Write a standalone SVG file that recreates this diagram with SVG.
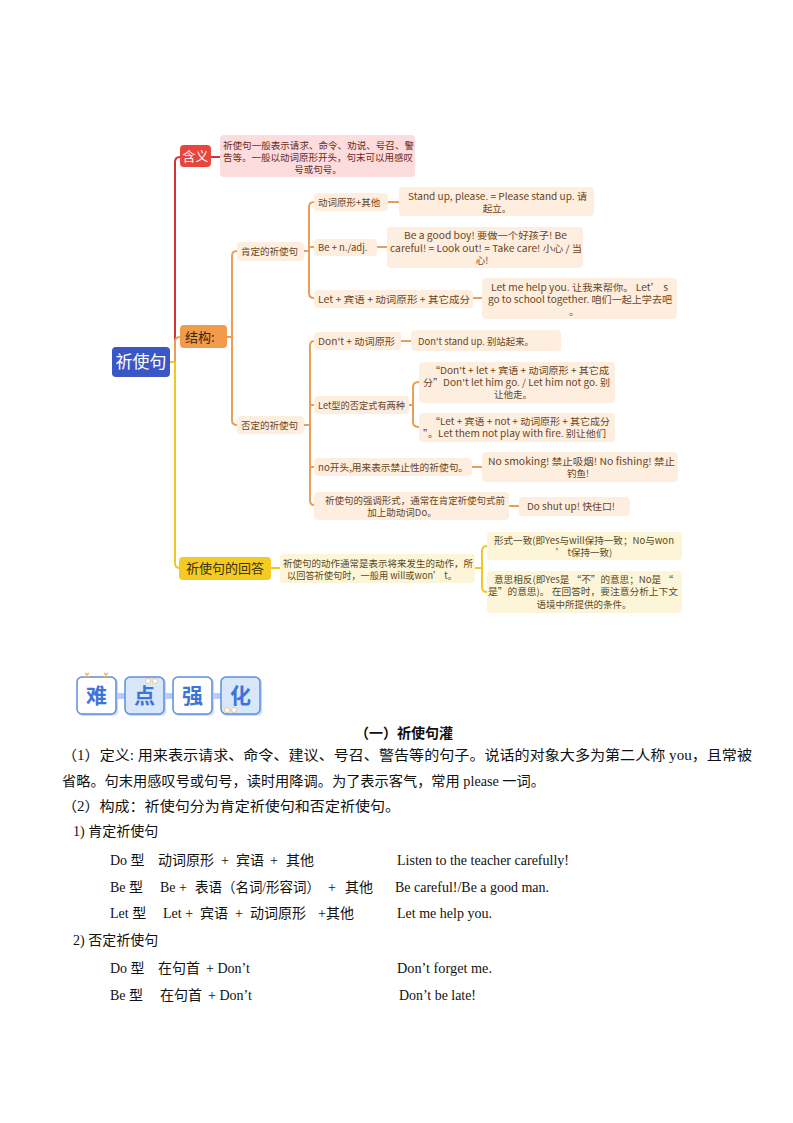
<svg xmlns="http://www.w3.org/2000/svg" width="793" height="1123" viewBox="0 0 793 1123">
<style>
.mm{font-family:"Noto Sans CJK SC","Noto Sans",sans-serif;font-size:9.5px;fill:#6a4524}
.mmc{text-anchor:middle}
.pf{fill:#fdeedf}
.yf{fill:#fdf5d8}
.body{font-family:"Liberation Serif","Noto Sans CJK SC",serif;font-size:14px;fill:#111}
.ln{fill:none;stroke-width:2;stroke-linecap:round}
.o{stroke:#e9a056}
.r{stroke:#d3342b}
.y{stroke:#f1c823}
.bx{stroke:#5b8fe0;stroke-width:1.5}
.bt{font-family:"Noto Sans CJK SC",sans-serif;font-size:21px;font-weight:bold;fill:#3d74d8;text-anchor:middle}
</style>
<rect width="793" height="1123" fill="#fff"/>

<g id="connectors">
<path class="ln y" d="M170,362 H175"/>
<path class="ln r" d="M175,340 V162 Q175,157 180,157"/>
<path class="ln r" d="M211,157 H220"/>
<path class="ln o" d="M175,362 V342 Q175,337 180,337"/>
<path class="ln y" d="M175,362 V563 Q175,568 180,568"/>
<path class="ln o" d="M227,337 H232 M232,337 V256 Q232,251 237,251 M232,337 V420 Q232,425 237,425"/>
<path class="ln o" d="M304,251 H309 M309,251 V207 Q309,202 314,202 M309,251 V293 Q309,298 314,298 M309,247 H314"/>
<path class="ln o" d="M388,202 H399 M377,247 H387 M473,298 H482"/>
<path class="ln o" d="M304,425 H310 M310,425 V346 Q310,341 314,341 M310,425 V500 Q310,505 314,505 M310,405 H314 M310,467 H314"/>
<path class="ln o" d="M401,341 H411 M409,405 H413 M413,405 V387 Q413,382 419,382 M413,405 V422 Q413,427 419,427 M472,467 H482 M509,506 H519"/>
<path class="ln y" d="M271,568 H280 M475,568 H482 M482,568 V551 Q482,546 487,546 M482,568 V587 Q482,592 487,592"/>
</g>

<g id="root">
<rect x="112" y="347" width="58" height="30" rx="4" fill="#3b57c5"/>
<text x="141" y="368" font-family="Noto Sans CJK SC,sans-serif" font-size="17" fill="#fff" text-anchor="middle">祈使句</text>
</g>

<g id="hanyi">
<rect x="180" y="145" width="31" height="22" rx="4" fill="#e8463c"/>
<text x="195.5" y="161" font-family="Noto Sans CJK SC,sans-serif" font-size="13" fill="#fff" text-anchor="middle">含义</text>
</g>
<g id="hanyi-desc">
<rect x="220" y="135" width="195" height="42" rx="4" fill="#fcdcdc"/>
<text class="mm" x="223" y="148.5" textLength="191" lengthAdjust="spacingAndGlyphs" style="fill:#6b2a22">祈使句一般表示请求、命令、劝说、号召、警</text>
<text class="mm" x="223" y="160.5" textLength="190" lengthAdjust="spacingAndGlyphs" style="fill:#6b2a22">告等。一般以动词原形开头，句末可以用感叹</text>
<text class="mm mmc" x="318" y="172.5" style="fill:#6b2a22">号或句号。</text>
</g>

<g id="jiegou">
<rect x="180" y="325" width="47" height="23" rx="4" fill="#f29b4a"/>
<text x="185" y="342" font-family="Noto Sans CJK SC,sans-serif" font-size="13" fill="#3b2410">结构:</text>
</g>

<g id="kending">
<rect class="pf" x="237" y="242" width="67" height="19" rx="4"/>
<text class="mm" x="241" y="254.5">肯定的祈使句</text>
</g>
<g id="k1">
<rect class="pf" x="314" y="193" width="74" height="18" rx="4"/>
<text class="mm" x="318" y="205.5">动词原形+其他</text>
</g>
<g id="k1d">
<rect class="pf" x="399" y="187" width="195" height="29" rx="4"/>
<text class="mm" x="408" y="199.5" textLength="179" lengthAdjust="spacingAndGlyphs">Stand up, please. = Please stand up.  请</text>
<text class="mm mmc" x="497" y="211.5">起立。</text>
</g>
<g id="k2">
<rect class="pf" x="314" y="239" width="63" height="17" rx="4"/>
<text class="mm" x="318" y="250.5">Be + n./adj.</text>
</g>
<g id="k2d">
<rect class="pf" x="387" y="227" width="196" height="41" rx="4"/>
<text class="mm" x="404" y="238.5" textLength="163" lengthAdjust="spacingAndGlyphs">Be a good boy! 要做一个好孩子!   Be</text>
<text class="mm" x="390" y="251.5" textLength="192" lengthAdjust="spacingAndGlyphs">careful! = Look out! = Take care! 小心 / 当</text>
<text class="mm mmc" x="482" y="263.5">心!</text>
</g>
<g id="k3">
<rect class="pf" x="314" y="290" width="159" height="18" rx="4"/>
<text class="mm" x="318" y="302.5" textLength="152" lengthAdjust="spacingAndGlyphs">Let + 宾语 + 动词原形 + 其它成分</text>
</g>
<g id="k3d">
<rect class="pf" x="482" y="278" width="195" height="41" rx="4"/>
<text class="mm" x="491" y="290.5" textLength="177" lengthAdjust="spacingAndGlyphs">Let me help you. 让我来帮你。     Let’ s</text>
<text class="mm" x="488" y="302.5" textLength="184" lengthAdjust="spacingAndGlyphs">go to school together.  咱们一起上学去吧</text>
<text class="mm mmc" x="574" y="314.5">。</text>
</g>

<g id="fouding">
<rect class="pf" x="237" y="416" width="67" height="18" rx="4"/>
<text class="mm" x="241" y="428.5">否定的祈使句</text>
</g>
<g id="f1">
<rect class="pf" x="314" y="332" width="87" height="18" rx="4"/>
<text class="mm" x="318" y="344.5" textLength="77" lengthAdjust="spacingAndGlyphs">Don't + 动词原形</text>
</g>
<g id="f1d">
<rect class="pf" x="411" y="330" width="150" height="21" rx="4"/>
<text class="mm" x="418" y="344.5" textLength="116" lengthAdjust="spacingAndGlyphs">Don't stand up. 别站起来。</text>
</g>
<g id="f2">
<rect class="pf" x="314" y="396" width="95" height="18" rx="4"/>
<text class="mm" x="318" y="408.5" textLength="87" lengthAdjust="spacingAndGlyphs">Let型的否定式有两种</text>
</g>
<g id="f2a">
<rect class="pf" x="419" y="362" width="196" height="41" rx="4"/>
<text class="mm" x="430" y="373.5" textLength="179" lengthAdjust="spacingAndGlyphs">“Don't + let + 宾语 + 动词原形 + 其它成</text>
<text class="mm" x="423" y="385.5" textLength="187" lengthAdjust="spacingAndGlyphs">分”Don't let him go. / Let him not go. 别</text>
<text class="mm mmc" x="513" y="397.5">让他走。</text>
</g>
<g id="f2b">
<rect class="pf" x="419" y="413" width="196" height="29" rx="4"/>
<text class="mm" x="430" y="424.5" textLength="180" lengthAdjust="spacingAndGlyphs">“Let + 宾语 + not + 动词原形 + 其它成分</text>
<text class="mm" x="423" y="436.5" textLength="183" lengthAdjust="spacingAndGlyphs">”。Let them not play with fire. 别让他们</text>
</g>
<g id="f3">
<rect class="pf" x="314" y="458" width="158" height="18" rx="4"/>
<text class="mm" x="318" y="470.5" textLength="150" lengthAdjust="spacingAndGlyphs">no开头,用来表示禁止性的祈使句。</text>
</g>
<g id="f3d">
<rect class="pf" x="482" y="452" width="196" height="30" rx="4"/>
<text class="mm" x="488" y="464.5" textLength="187" lengthAdjust="spacingAndGlyphs">No smoking! 禁止吸烟!    No fishing! 禁止</text>
<text class="mm mmc" x="578" y="476.5">钓鱼!</text>
</g>
<g id="f4">
<rect class="pf" x="314" y="492" width="195" height="28" rx="4"/>
<text class="mm" x="325" y="503.5" textLength="180" lengthAdjust="spacingAndGlyphs">祈使句的强调形式，通常在肯定祈使句式前</text>
<text class="mm mmc" x="402" y="515.5">加上助动词Do。</text>
</g>
<g id="f4d">
<rect class="pf" x="519" y="497" width="111" height="19" rx="4"/>
<text class="mm" x="527" y="509.5" textLength="88" lengthAdjust="spacingAndGlyphs">Do shut up! 快住口!</text>
</g>

<g id="huida">
<rect x="179" y="557" width="92" height="23" rx="4" fill="#f4ca25"/>
<text x="225" y="573" font-family="Noto Sans CJK SC,sans-serif" font-size="13" fill="#3a2e00" text-anchor="middle">祈使句的回答</text>
</g>
<g id="huida-desc">
<rect class="yf" x="280" y="554" width="195" height="29" rx="4"/>
<text class="mm" x="283" y="566.5" textLength="190" lengthAdjust="spacingAndGlyphs" style="fill:#5a4a1e">祈使句的动作通常是表示将来发生的动作，所</text>
<text class="mm" x="287" y="578.5" textLength="170" lengthAdjust="spacingAndGlyphs" style="fill:#5a4a1e">以回答祈使句时，一般用 will或won’ t。</text>
</g>
<g id="h1">
<rect class="yf" x="487" y="532" width="195" height="28" rx="4"/>
<text class="mm" x="494" y="543.5" textLength="180" lengthAdjust="spacingAndGlyphs" style="fill:#5a4a1e">形式一致(即Yes与will保持一致；No与won</text>
<text class="mm mmc" x="584" y="555.5" style="fill:#5a4a1e">’ t保持一致)</text>
</g>
<g id="h2">
<rect class="yf" x="487" y="571" width="195" height="42" rx="4"/>
<text class="mm" x="494" y="582.5" textLength="179" lengthAdjust="spacingAndGlyphs" style="fill:#5a4a1e">意思相反(即Yes是 “不”的意思；No是 “</text>
<text class="mm" x="488" y="595" textLength="190" lengthAdjust="spacingAndGlyphs" style="fill:#5a4a1e">是”的意思)。 在回答时，要注意分析上下文</text>
<text class="mm mmc" x="584" y="608" style="fill:#5a4a1e">语境中所提供的条件。</text>
</g>

<g id="badge">
<rect x="117" y="693" width="8" height="6" fill="#b5cff3"/>
<rect x="165" y="693" width="8" height="6" fill="#b5cff3"/>
<rect x="213" y="693" width="8" height="6" fill="#b5cff3"/>
<rect x="78" y="678" width="40" height="38" rx="5" fill="#c7dbf7"/>
<rect x="77" y="677" width="39" height="37" rx="5" fill="#fff" class="bx"/>
<rect x="126" y="678" width="40" height="38" rx="5" fill="#c7dbf7"/>
<rect x="125" y="677" width="39" height="37" rx="5" fill="#d9e7fb" class="bx"/>
<rect x="174" y="678" width="40" height="38" rx="5" fill="#c7dbf7"/>
<rect x="173" y="677" width="39" height="37" rx="5" fill="#fff" class="bx"/>
<rect x="222" y="678" width="40" height="38" rx="5" fill="#c7dbf7"/>
<rect x="221" y="677" width="39" height="37" rx="5" fill="#d9e7fb" class="bx"/>
<text class="bt" x="96.5" y="703">难</text>
<text class="bt" x="144.5" y="703">点</text>
<text class="bt" x="192.5" y="703">强</text>
<text class="bt" x="240.5" y="703">化</text>
<path d="M85,673 l4,4 M89,673 l-4,4 M104,673 l4,4 M108,673 l-4,4" stroke="#e4b05a" stroke-width="1.2"/>
<circle cx="148" cy="681" r="2.5" fill="#fff" stroke="#e9c98f" stroke-width="1"/>
<circle cx="155" cy="681" r="2.5" fill="#fff" stroke="#e9c98f" stroke-width="1"/>
<circle cx="227" cy="710" r="2.5" fill="#fff" stroke="#e9c98f" stroke-width="1"/>
<circle cx="234" cy="710" r="2.5" fill="#fff" stroke="#e9c98f" stroke-width="1"/>
</g>

<g id="body-text">
<text class="body" x="355" y="738" font-weight="bold" font-size="13">（一）祈使句灌</text>
<text class="body" x="62" y="760" textLength="690" lengthAdjust="spacingAndGlyphs">（1）定义: 用来表示请求、命令、建议、号召、警告等的句子。说话的对象大多为第二人称 you，且常被</text>
<text class="body" x="62" y="786" textLength="483" lengthAdjust="spacingAndGlyphs">省略。句末用感叹号或句号，读时用降调。为了表示客气，常用 please 一词。</text>
<text class="body" x="62" y="811" textLength="338" lengthAdjust="spacingAndGlyphs">（2）构成：祈使句分为肯定祈使句和否定祈使句。</text>
<text class="body" x="73" y="836">1) 肯定祈使句</text>
<text class="body" x="110" y="865">Do 型</text>
<text class="body" x="158" y="865">动词原形</text>
<text class="body" x="221" y="865">+</text>
<text class="body" x="236" y="865">宾语</text>
<text class="body" x="270" y="865">+</text>
<text class="body" x="286" y="865">其他</text>
<text class="body" x="397" y="865" textLength="172" lengthAdjust="spacingAndGlyphs">Listen to the teacher carefully!</text>
<text class="body" x="110" y="892">Be  型</text>
<text class="body" x="160" y="892">Be +</text>
<text class="body" x="195" y="892" textLength="125" lengthAdjust="spacingAndGlyphs">表语（名词/形容词）</text>
<text class="body" x="328" y="892">+</text>
<text class="body" x="345" y="892">其他</text>
<text class="body" x="395" y="892" textLength="154" lengthAdjust="spacingAndGlyphs">Be careful!/Be a good man.</text>
<text class="body" x="110" y="918">Let  型</text>
<text class="body" x="163" y="918">Let +</text>
<text class="body" x="200" y="918">宾语</text>
<text class="body" x="235" y="918">+</text>
<text class="body" x="250" y="918">动词原形</text>
<text class="body" x="318" y="918">+其他</text>
<text class="body" x="397" y="918" textLength="95" lengthAdjust="spacingAndGlyphs">Let me help you.</text>
<text class="body" x="73" y="945">2) 否定祈使句</text>
<text class="body" x="110" y="973">Do 型</text>
<text class="body" x="158" y="973">在句首</text>
<text class="body" x="206" y="973">+ Don’t</text>
<text class="body" x="397" y="973" textLength="95" lengthAdjust="spacingAndGlyphs">Don’t forget me.</text>
<text class="body" x="110" y="1000">Be  型</text>
<text class="body" x="160" y="1000">在句首</text>
<text class="body" x="208" y="1000">+ Don’t</text>
<text class="body" x="399" y="1000" textLength="77" lengthAdjust="spacingAndGlyphs">Don’t be late!</text>
</g>
</svg>
